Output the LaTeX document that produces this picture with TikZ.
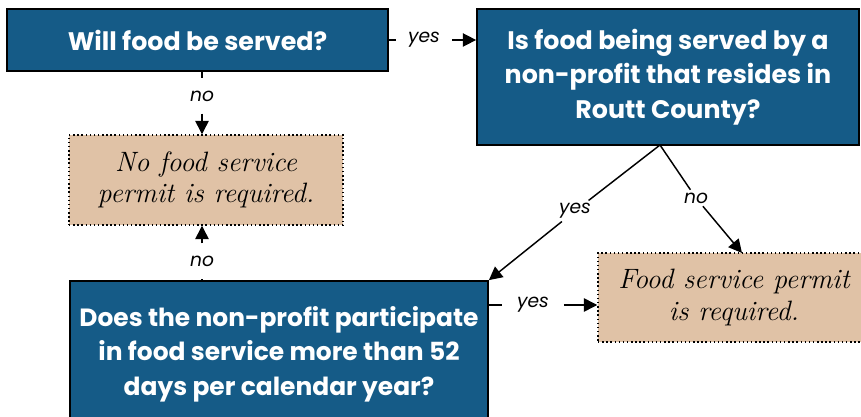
\documentclass[tikz,border=0pt]{standalone}
\usepackage{fontspec}
\newfontfamily\gothic{Poppins}
\usetikzlibrary{arrows.meta}
\definecolor{qblue}{HTML}{155B87}
\definecolor{tanfill}{HTML}{E0C2A6}
\tikzset{
  qbox/.style={draw=black, line width=1.3pt, fill=qblue, text=white, align=center,
    font=\gothic\bfseries\fontsize{19}{26}\selectfont, inner sep=0pt},
  abox/.style={draw=black, dotted, line width=1.1pt, fill=tanfill, align=center,
    font=\itshape\fontsize{21}{23.5}\selectfont, inner sep=0pt},
  lbl/.style={font=\gothic\itshape\fontsize{14}{16}\selectfont, inner xsep=9pt, inner ysep=9pt},
  conn/.style={line width=1.1pt},
  arr/.style={line width=1.1pt, -{Triangle[length=10pt,width=10pt]}}
}
\begin{document}
\begin{tikzpicture}[x=0.75pt,y=-0.75pt]
\useasboundingbox (0,0) rectangle (861,417);
\clip (0,0) rectangle (861,417);
\node[qbox, minimum width=381*0.75pt, minimum height=62*0.75pt] (b1) at (197.5,40) {Will food be served?};
\node[qbox, minimum width=382*0.75pt, minimum height=136*0.75pt] (b2) at (668,77) {Is food being served by a\\ non-profit that resides in\\ Routt County?};
\node[abox, minimum width=274*0.75pt, minimum height=90*0.75pt] (t1) at (206,180) {No food service\\ permit is required.};
\node[abox, minimum width=272*0.75pt, minimum height=89*0.75pt] (t2) at (734,297.5) {Food service permit\\ is required.};
\node[qbox, font=\gothic\bfseries\fontsize{18.7}{26}\selectfont, minimum width=418*0.75pt, minimum height=146*0.75pt] (b5) at (279,354) {Does the non-profit participate\\ in food service more than 52\\ days per calendar year?};
\coordinate (sp) at (660,145);
\node[lbl] (ly1) at (424,40) {yes};
\node[lbl] (ln1) at (202,96) {no};
\node[lbl] (ln2) at (202,261) {no};
\node[lbl, inner xsep=3pt, inner ysep=2pt] (ly2) at (575,211) {yes};
\node[lbl, inner xsep=3pt, inner ysep=2pt] (ln3) at (696,198) {no};
\node[lbl, inner xsep=11pt] (ly3) at (533,305) {yes};
\draw[conn] (b1.east |- ly1) -- (ly1);
\draw[arr] (ly1) -- (ly1 -| b2.west);
\draw[conn] (b1.south -| ln1) -- (ln1);
\draw[arr] (ln1) -- (ln1 |- t1.north);
\draw[conn] (b5.north -| ln2) -- (ln2);
\draw[arr] (ln2) -- (ln2 |- t1.south);
\draw[conn] (sp) -- (ly2);
\draw[arr] (ly2) -- (b5.north east);
\draw[conn] (sp) -- (ln3);
\draw[arr] (ln3) -- (742,253);
\draw[conn] (b5.east |- ly3) -- (ly3);
\draw[arr] (ly3) -- (ly3 -| t2.west);
\end{tikzpicture}
\end{document}
